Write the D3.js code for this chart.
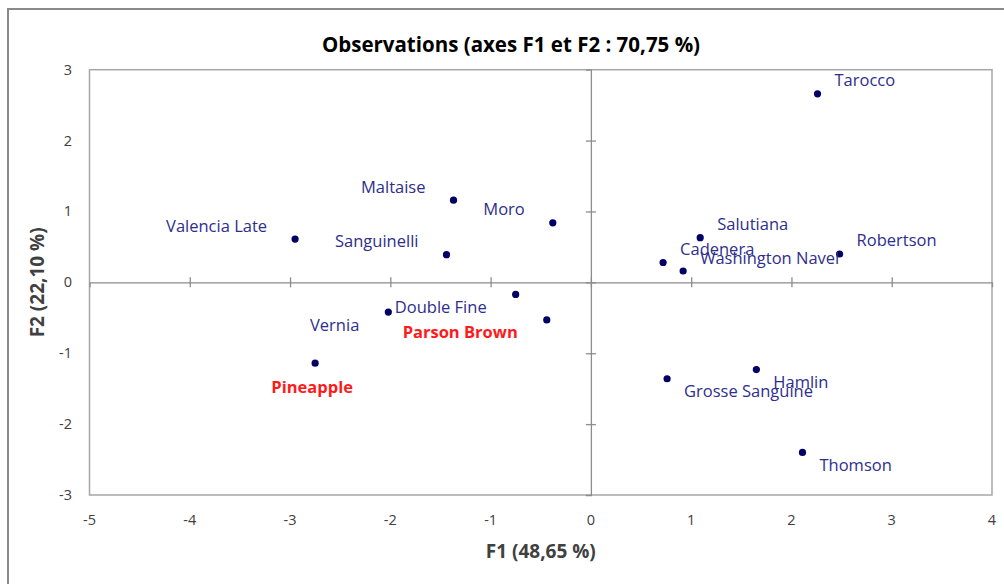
<!DOCTYPE html>
<html><head><meta charset="utf-8">
<script src="https://cdn.jsdelivr.net/npm/d3@7"></script>
<style>html,body{margin:0;padding:0;background:#fff;overflow:hidden}</style>
</head><body>
<svg id="c" width="1004" height="584"></svg>
<script>
// ---- data ----
const names = ["Tarocco","Maltaise","Moro","Valencia Late","Sanguinelli","Salutiana","Cadenera","Washington Navel","Robertson","Vernia","Double Fine","Parson Brown","Pineapple","Grosse Sanguine","Hamlin","Thomson"];
const f1 = [2.26,-1.37,-0.38,-2.95,-1.44,1.09,0.72,0.92,2.48,-2.02,-0.75,-0.44,-2.75,0.76,1.65,2.11];
const f2 = [2.66,1.16,0.84,0.61,0.39,0.63,0.28,0.16,0.40,-0.42,-0.17,-0.53,-1.14,-1.36,-1.23,-2.40];
const highlighted = ["Parson Brown","Pineapple"];
const labelSide = ["ur","ul","ul","ul","ul","ur","ur","ur","ur","ll","ll","ll","b","lr","lr","lr"];
const xTicks = [-5,-4,-3,-2,-1,0,1,2,3,4];
const yTicks = [-3,-2,-1,0,1,2,3];
const title = "Observations (axes F1 et F2 : 70,75 %)";
const xTitle = "F1 (48,65 %)";
const yTitle = "F2 (22,10 %)";

// ---- layout ----
const svg = d3.select("#c");
const L = 89.5, R = 992, T = 69.7, B = 495;
const x = d3.scaleLinear().domain([-5,4]).range([L,R]);
const y = d3.scaleLinear().domain([-3,3]).range([B,T]);
const font = "'Open Sans', sans-serif";

// outer chart border
svg.append("rect").attr("x",8).attr("y",9).attr("width",1010).attr("height",600)
  .attr("fill","none").attr("stroke","#8a8a8a").attr("stroke-width",2);

// title
svg.append("text").attr("x",511).attr("y",52).attr("text-anchor","middle")
  .attr("font-family",font).attr("font-weight","bold").attr("font-size",20.5).attr("fill","#000").text(title);

// plot border
svg.append("rect").attr("x",L).attr("y",T).attr("width",R-L).attr("height",B-T)
  .attr("fill","none").attr("stroke","#a6a6a6").attr("stroke-width",1.5);

// zero axes with crossing ticks
const gx = svg.append("g").attr("transform",`translate(0,${y(0)})`)
  .call(d3.axisBottom(x).tickValues(xTicks.filter(d=>d>-5&&d<4)).tickSize(5).tickFormat(""));
gx.selectAll(".tick line").attr("y1",-5).attr("y2",5);
const gy = svg.append("g").attr("transform",`translate(${x(0)},0)`)
  .call(d3.axisLeft(y).tickValues(yTicks.filter(d=>d>-3&&d<3)).tickSize(5).tickFormat(""));
gy.selectAll(".tick line").attr("x1",-5).attr("x2",5);
svg.selectAll(".domain").attr("stroke","#8c8c8c").attr("stroke-width",1.3);
svg.selectAll(".tick line").attr("stroke","#8c8c8c").attr("stroke-width",1.3);

// tick labels on plot edges
svg.append("g").selectAll("text").data(xTicks).join("text")
  .attr("x",d=>x(d)).attr("y",525).attr("text-anchor","middle")
  .attr("font-family",font).attr("font-size",14.5).attr("fill","#404040").text(d=>d);
svg.append("g").selectAll("text").data(yTicks).join("text")
  .attr("x",72).attr("y",d=>y(d)+5).attr("text-anchor","end")
  .attr("font-family",font).attr("font-size",14.5).attr("fill","#404040").text(d=>d);

// axis titles
svg.append("text").attr("x",(L+R)/2).attr("y",558).attr("text-anchor","middle")
  .attr("font-family",font).attr("font-weight","bold").attr("font-size",19).attr("fill","#404040").text(xTitle);
svg.append("text").attr("transform",`translate(44,${(T+B)/2}) rotate(-90)`).attr("text-anchor","middle")
  .attr("font-family",font).attr("font-weight","bold").attr("font-size",19).attr("fill","#404040").text(yTitle);

// points
const pts = names.map((n,i)=>({name:n, x:f1[i], y:f2[i], side:labelSide[i], hi:highlighted.includes(n)}));
svg.append("g").selectAll("circle").data(pts).join("circle")
  .attr("cx",d=>x(d.x)).attr("cy",d=>y(d.y)).attr("r",3.6).attr("fill","#000066");

// labels
const off = {ur:[17,-13,"start"], ul:[-28,-13,"end"], lr:[17,13,"start"], ll:[-29,13,"end"], b:[-3,24,"middle"]};
svg.append("g").selectAll("text").data(pts).join("text")
  .attr("x",d=>x(d.x)+off[d.side][0]).attr("y",d=>y(d.y)+off[d.side][1]+5.5)
  .attr("text-anchor",d=>off[d.side][2])
  .attr("font-family",font).attr("font-size",16.5)
  .attr("font-weight",d=>d.hi?"bold":"normal")
  .attr("fill",d=>d.hi?"#ff1a1a":"#2e2e8c").text(d=>d.name);
</script>
</body></html>
